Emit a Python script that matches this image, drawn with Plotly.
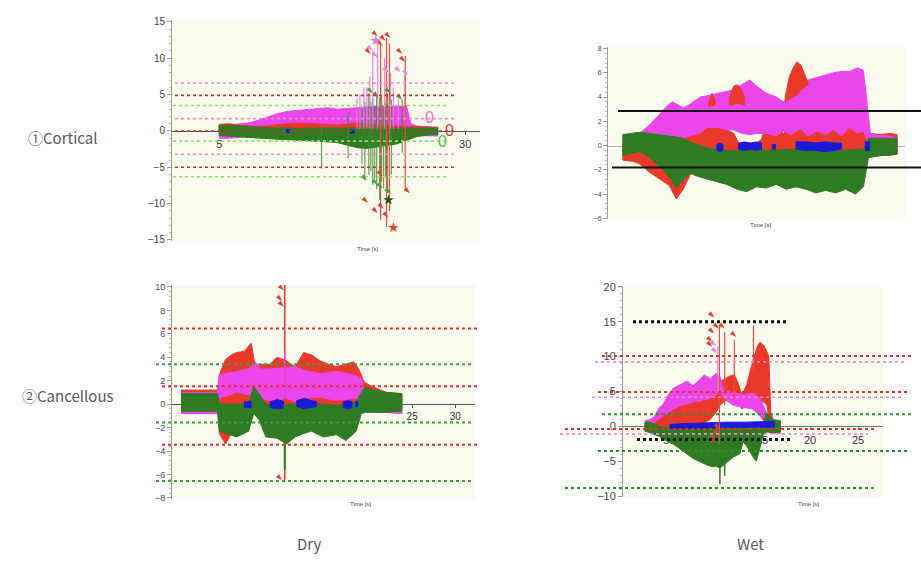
import plotly.graph_objects as go

W, H = 921, 561
def fx(px): return px / W
def fy(py): return 1 - py / H

MAG = "#eb46ea"; RED = "#e8392b"; GRN = "#2f7b24"; BLU = "#1a1ad6"
BG = "#fbfaee"

# ---------------- Panel 1 : Cortical / Dry ----------------
mag1_t  = [5, 6, 7, 8, 9, 10, 11, 12, 13, 14, 15, 16, 17, 18, 19, 20, 21, 22, 23, 24, 24.5, 25, 26, 27.2]
mag1_hi = [0.7, 0.8, 0.9, 1.1, 1.5, 2.0, 2.4, 2.7, 2.8, 3.0, 3.1, 3.2, 3.0, 3.1, 3.3, 3.4, 3.4, 3.5, 3.4, 3.5, 1.0, 0.7, 0.6, 0.5]
mag1_lo = [-1.0, -1.0, -0.9, -0.8, -0.6, -0.5, -0.4, -0.4, -0.4, -0.4, -0.4, -0.4, -0.4, -0.4, -0.4, -0.4, -0.4, -0.4, -0.4, -0.4, -0.6, -0.7, -0.7, -0.7]
red1_t  = [5, 6, 7, 8, 9, 10, 11, 12, 13, 14, 15, 16, 17, 18, 19, 20, 21, 22, 23, 24, 25, 26, 27.2]
red1_hi = [0.9, 1.0, 0.8, 0.7, 0.6, 0.7, 0.9, 1.0, 1.1, 1.0, 0.9, 0.9, 0.8, 0.9, 1.2, 0.9, 0.8, 0.7, 0.6, 0.6, 0.6, 0.5, 0.5]
red1_lo = [0.1, 0.1, 0.1, 0.1, 0.1, 0.1, 0.1, 0.1, 0.1, 0.1, 0.1, 0.1, 0.0, -0.3, -0.6, -0.3, 0.0, 0.1, 0.1, 0.1, 0.1, 0.1, 0.1]
grn1_t  = [5, 6, 7, 8, 9, 10, 11, 12, 13, 14, 15, 16, 17, 18, 19, 20, 21, 22, 23, 24, 25, 26, 27.2]
grn1_hi = [0.8, 0.8, 0.7, 0.6, 0.5, 0.4, 0.4, 0.4, 0.3, 0.4, 0.4, 0.3, 0.4, 0.4, 0.3, 0.4, 0.4, 0.4, 0.4, 0.4, 0.4, 0.4, 0.4]
grn1_lo = [-0.6, -0.7, -0.8, -0.9, -1.0, -1.1, -1.15, -1.2, -1.3, -1.35, -1.4, -1.5, -1.6, -1.9, -2.3, -2.4, -2.2, -2.0, -1.8, -1.3, -0.8, -0.6, -0.5]
blu1_segs = [([11.8, 12.2], [0.2, 0.2], [-0.2, -0.2]), ([18.3, 18.7], [0.1, 0.1], [-0.3, -0.3])]

p1_red_spk_t   = [21.4, 22.0, 22.3, 23.9]
p1_red_spk_top = [11.9, 12.8, 12.0, 10.3]
p1_red_spk_bot = [-12.2, -13.2, -11.0, -8.2]
p1_pnk_spk_t   = [19.0, 19.3, 19.7, 20.0, 20.3, 20.6, 21.1, 21.4, 21.8, 22.4, 22.7, 23.2, 23.9]
p1_pnk_spk_top = [4.5, 5.0, 6.0, 6.0, 7.5, 11.0, 12.4, 8.0, 10.0, 8.0, 6.0, 5.0, 7.7]
p1_pnk_spk_bot = [0.3, 0.3, 0.3, 0.3, 0.3, 0.3, 0.3, 0.3, 0.3, 0.3, 0.3, 0.3, 0.3]
p1_grn_spk_t   = [15.4, 18.1, 19.8, 20.2, 20.6, 21.0, 21.3, 21.7, 22.1, 22.5, 23.6, 19.5, 20.4, 20.8, 21.5, 21.9]
p1_grn_spk_top = [0.5, 2.5, 4.0, 5.2, 4.5, 5.0, 4.6, 3.0, 5.2, 4.3, 4.3, 3.0, 4.0, 3.5, 4.8, 3.8]
p1_grn_spk_bot = [-5.2, -3.8, -6.8, -6.0, -7.4, -8.0, -9.5, -7.9, -8.6, -6.0, -3.0, -4.5, -5.5, -6.5, -7.0, -6.2]
p1_red_arr_t = [21.1, 21.9, 22.4, 20.4, 21.6, 23.6, 23.9, 20.1, 21.1, 21.7, 22.2, 24.4, 21.6]
p1_red_arr_v = [13.0, 12.4, 12.8, 10.6, 11.7, 10.6, 9.5, -9.9, -11.3, -10.7, -11.9, -8.6, -6.2]
p1_grn_arr_t = [20.6, 21.2, 22.4, 23.6, 20.0, 21.1, 21.6, 22.4]
p1_grn_arr_v = [5.2, 4.6, 5.2, 4.3, -6.8, -7.4, -7.9, -8.6]
p1_pnk_arr_t = [20.6, 21.1, 22.2, 23.4, 24.2]
p1_pnk_arr_v = [11.0, 10.1, 8.1, 8.1, 7.7]
p1_star_t = [22.7, 20.9, 22.2]
p1_star_v = [-13.3, 12.4, -9.5]
p1_zero_t = [26.4, 28.4, 27.7]
p1_zero_v = [1.9, 0.1, -1.5]

thr1_vals = [6.6, 4.9, 3.5, 1.7, 0.0, -1.4, -3.2, -5.0, -6.3]
thr1_kind = ["pink", "dred", "lgrn", "pink", "dred", "lgrn", "pink", "dred", "lgrn"]
x1_ticks = [5, 30]

# ---------------- Panel 2 : Cortical / Wet ----------------
red2_t  = [1.5, 2.5, 3.2, 4.2, 5.3, 6.2, 6.9, 7.6, 8.3, 9.3, 10.0, 11.0, 12.0, 12.7, 13.2, 14.0, 15.0, 15.5, 16.0, 17.0, 17.7, 18.5, 19.4, 20.2, 21.1, 22.0, 22.8, 23.6, 24.4, 25.2, 25.8, 26.5, 27.5, 28.5, 29.2]
red2_hi = [0.2, 0.2, 0.3, 0.4, 0.5, 0.5, 0.6, 0.8, 1.0, 1.2, 1.6, 1.5, 1.3, 1.0, 0.2, 0.2, 0.2, 0.5, 1.8, 1.6, 1.0, 1.5, 2.2, 1.6, 2.3, 1.8, 2.4, 1.7, 2.5, 1.9, 2.3, 1.0, 0.9, 1.0, 0.9]
red2_lo = [-1.2, -1.3, -1.5, -2.2, -2.8, -3.3, -4.4, -3.6, -2.4, -1.7, -0.8, -0.5, -0.5, -0.5, -0.5, -0.5, -0.5, -0.5, -0.5, -0.5, -0.5, -0.5, -0.5, -0.5, -0.5, -0.5, -0.5, -0.5, -0.5, -0.5, -0.5, -0.5, -0.5, -0.5, -0.5]
mag2_t  = [3.2, 4.2, 5.0, 5.9, 6.5, 7.0, 7.6, 8.3, 9.3, 10.0, 11.0, 12.0, 12.7, 13.5, 14.3, 15.0, 16.0, 17.0, 17.7, 18.5, 19.4, 20.2, 21.1, 22.0, 22.8, 23.6, 24.4, 25.2, 25.8, 26.1, 26.5, 27.5, 28.5, 29.2]
mag2_hi = [1.0, 1.7, 2.4, 3.2, 3.6, 3.4, 3.1, 3.4, 4.0, 4.1, 4.3, 4.5, 4.6, 5.0, 5.4, 4.9, 4.3, 4.0, 3.6, 4.0, 5.2, 5.4, 5.6, 5.8, 6.0, 6.1, 6.1, 6.4, 6.2, 4.0, 1.0, 0.8, 0.8, 0.6]
mag2_lo = [0.6, 0.6, 0.6, 0.5, 0.5, 0.5, 0.6, 0.8, 1.0, 1.5, 1.5, 1.3, 1.3, 1.0, 0.9, 1.0, 1.0, 0.8, 1.2, 0.9, 1.4, 0.8, 1.2, 0.9, 1.3, 0.8, 1.5, 1.0, 1.2, 0.6, -0.8, -0.8, -0.8, -0.7]
red2b_segs = [([10.2, 10.5, 10.8], [3.6, 4.3, 3.8], [3.2, 3.3, 3.3]),
              ([12.3, 12.7, 13.1, 13.5, 13.8], [4.0, 4.9, 5.0, 4.6, 3.9], [3.3, 3.4, 3.5, 3.4, 3.3]),
              ([17.9, 18.3, 18.7, 19.1, 19.5, 19.9, 20.2], [4.0, 5.6, 6.4, 6.9, 6.6, 5.8, 5.2], [3.6, 3.8, 4.0, 4.2, 4.6, 4.8, 5.0])]
grn2_t  = [1.5, 2.5, 3.2, 4.2, 5.3, 6.2, 6.9, 7.6, 8.3, 9.3, 10.0, 11.0, 12.0, 13.0, 14.0, 15.0, 16.0, 17.0, 18.0, 19.0, 20.0, 21.0, 22.0, 23.0, 24.0, 25.0, 25.8, 26.3, 27.0, 27.8, 28.5, 29.2]
grn2_hi = [0.9, 1.0, 1.1, 1.0, 0.9, 0.8, 0.7, 0.6, 0.3, 0.0, -0.2, -0.3, -0.4, -0.4, -0.4, -0.3, -0.4, -0.4, -0.3, -0.3, -0.4, -0.4, -0.5, -0.5, -0.4, -0.3, -0.3, 0.6, 0.6, 0.6, 0.6, 0.6]
grn2_lo = [-0.8, -0.6, -0.5, -1.0, -1.8, -2.6, -3.5, -2.8, -2.3, -2.6, -2.8, -3.0, -3.2, -3.6, -3.8, -3.4, -3.5, -3.2, -3.6, -3.4, -3.6, -3.9, -3.7, -3.9, -3.6, -4.0, -3.4, -1.0, -0.9, -0.8, -0.8, -0.7]
blu2_segs = [([11.0, 11.3, 11.6], [0.1, 0.2, 0.1], [-0.4, -0.5, -0.4]),
             ([13.2, 13.8, 14.4, 15.0, 15.5], [0.2, 0.3, 0.2, 0.3, 0.2], [-0.3, -0.4, -0.3, -0.4, -0.3]),
             ([16.6, 16.9], [0.1, 0.1], [-0.3, -0.3]),
             ([19.0, 20.0, 21.0, 22.0, 23.0, 23.6], [0.3, 0.3, 0.2, 0.3, 0.2, 0.2], [-0.3, -0.4, -0.4, -0.5, -0.4, -0.3]),
             ([26.0, 26.4], [0.3, 0.3], [-0.4, -0.4])]
thr2_vals = [2.85, -1.8]

# ---------------- Panel 3 : Cancellous / Dry ----------------
red3_t  = [-1.8, 0, 2.4, 2.6, 3.3, 4.0, 4.6, 5.5, 6.3, 6.8, 7.4, 8.5, 9.3, 10.4, 11.4, 12.4, 13.3, 14.3, 15.3, 16.2, 17.3, 18.2, 18.8, 19.4, 20.1, 21.0, 22.0, 23.8]
red3_hi = [1.2, 1.2, 1.2, 2.5, 3.8, 4.2, 4.4, 4.5, 5.2, 3.1, 3.4, 3.4, 4.0, 3.7, 3.2, 4.4, 4.2, 3.7, 3.4, 3.2, 3.4, 3.6, 3.0, 1.9, 1.6, 1.3, 1.0, 0.9]
red3_lo = [-0.4, -0.4, -0.5, -2.5, -3.4, -2.5, -1.5, -0.8, -0.6, -0.8, -0.5, -0.5, -0.5, -0.5, -0.5, -0.5, -0.5, -0.5, -0.5, -0.5, -0.5, -0.8, -1.0, -0.5, -0.4, -0.4, -0.4, -0.4]
mag3_t  = [-1.8, 0, 2.4, 2.6, 4.6, 6.0, 6.8, 7.4, 8.5, 10.4, 11.4, 12.4, 14.3, 16.2, 18.2, 19.1, 19.4, 21.0, 23.8]
mag3_hi = [1.0, 1.0, 1.0, 2.5, 2.8, 3.0, 3.6, 3.0, 3.0, 3.1, 3.2, 2.9, 2.6, 2.8, 2.5, 2.2, 1.0, 0.9, 0.8]
mag3_lo = [-0.8, -0.8, -0.8, 0.5, 1.0, 0.8, 0.5, 0.5, 0.3, 0.5, 0.2, 0.5, 0.6, 0.3, 0.5, 0.5, -0.6, -0.7, -0.8]
grn3_t  = [-1.8, 0, 2.4, 2.6, 4.6, 6.0, 6.6, 7.2, 8.0, 9.3, 10.4, 11.4, 12.4, 13.3, 14.7, 16.2, 17.3, 18.5, 19.1, 19.6, 20.5, 22.0, 23.8]
grn3_hi = [0.9, 0.9, 0.9, 0.0, 0.0, 0.1, 1.5, 0.9, 0.0, -0.1, 0.0, 0.0, -0.1, 0.0, 0.0, -0.1, 0.0, 0.2, 1.0, 1.5, 1.2, 1.0, 0.9]
grn3_lo = [-0.6, -0.6, -0.6, -2.3, -2.8, -2.3, -0.8, -1.3, -2.8, -2.9, -3.4, -2.8, -2.5, -2.3, -2.8, -2.6, -3.1, -2.3, -0.8, -0.7, -0.7, -0.7, -0.6]
blu3_segs = [([5.5, 6.3], [0.2, 0.2], [-0.3, -0.3]),
             ([8.5, 9.3, 10.2], [0.2, 0.4, 0.2], [-0.3, -0.4, -0.3]),
             ([11.6, 12.5, 13.3, 13.9], [0.3, 0.5, 0.3, 0.2], [-0.2, -0.4, -0.3, -0.2]),
             ([17.0, 17.6, 18.0], [0.2, 0.3, 0.2], [-0.3, -0.4, -0.3]),
             ([18.4, 18.7], [0.2, 0.2], [-0.2, -0.2])]
p3_red_spk_t = [10.2]; p3_red_spk_top = [10.4]; p3_red_spk_bot = [-6.5]
p3_grn_spk_t = [10.2]; p3_grn_spk_top = [0.0]; p3_grn_spk_bot = [-5.6]
p3_pnk_spk_t = [10.2]; p3_pnk_spk_top = [4.6]; p3_pnk_spk_bot = [0.5]
p3_red_arr_t = [9.9, 10.1, 9.9, 10.1, 9.9]
p3_red_arr_v = [10.1, 9.7, 8.8, 8.3, -6.5]
thr3_vals = [6.45, 3.4, 1.53, -1.56, -3.46, -6.56]
thr3_kind = ["red", "grn", "red", "grn", "red", "grn"]
x3_ticks = [25, 30]

# ---------------- Panel 4 : Cancellous / Wet ----------------
red4_t  = [2.8, 3.7, 4.2, 4.7, 5.2, 5.8, 6.5, 7.2, 7.8, 8.5, 9.0, 9.6, 10.2, 10.6, 11.0, 11.6, 12.1, 12.5, 12.9, 13.4, 14.1, 14.5, 14.8, 15.2, 15.5, 15.7, 15.9, 16.2, 16.9]
red4_hi = [0.5, 0.8, 1.5, 2.0, 2.8, 3.2, 3.5, 3.8, 3.6, 3.5, 3.9, 4.6, 5.5, 6.5, 6.7, 7.2, 7.4, 6.2, 4.5, 6.0, 9.7, 11.5, 12.1, 11.5, 10.7, 10.0, 2.0, 0.8, 0.5]
red4_lo = [-0.5, -0.5, -0.5, -0.5, -0.3, -0.3, -0.3, 0.0, 0.0, 0.3, 0.5, 1.0, 2.0, 3.0, 3.5, 4.0, 4.0, 3.5, 2.5, 3.0, 3.0, 3.2, 3.5, 3.5, 3.0, 1.0, 0.0, -0.5, -0.5]
mag4_t  = [2.8, 3.3, 3.7, 4.2, 4.7, 5.2, 5.8, 6.5, 7.2, 7.8, 8.5, 9.0, 9.6, 10.2, 10.6, 11.0, 12.0, 13.0, 14.0, 14.8, 15.5, 16.0, 16.9]
mag4_hi = [0.8, 1.0, 1.3, 2.5, 3.2, 4.5, 5.5, 6.0, 6.5, 5.8, 6.7, 7.4, 6.8, 7.6, 7.2, 5.0, 5.0, 4.5, 4.8, 4.0, 1.8, 0.5, 0.3]
mag4_lo = [-0.8, -0.5, 0.5, 1.0, 1.5, 2.0, 2.5, 3.0, 3.2, 3.5, 3.7, 3.8, 4.0, 4.5, 5.0, 4.0, 3.0, 2.8, 2.5, 1.5, 0.0, -1.0, -1.0]
grn4_t  = [2.8, 3.3, 4.2, 5.2, 5.8, 6.8, 7.8, 8.5, 9.2, 9.8, 10.2, 10.6, 11.3, 12.0, 12.7, 13.0, 13.4, 13.8, 14.1, 14.4, 14.8, 15.1, 15.5, 16.0, 16.9]
grn4_hi = [0.6, 0.6, 0.0, -0.2, -0.3, -0.3, -0.3, -0.3, -0.3, -0.3, -0.3, -0.3, -0.3, -0.3, -0.3, 0.5, -0.3, -0.3, -0.3, -0.3, -0.3, 0.5, 1.9, 1.0, 0.8]
grn4_lo = [-0.7, -0.9, -1.4, -2.2, -2.6, -3.6, -4.6, -5.0, -5.5, -5.8, -5.7, -6.0, -5.2, -4.4, -3.9, -2.2, -2.8, -3.8, -4.5, -5.0, -3.0, -1.2, -0.8, -0.9, -0.8]
blu4_segs = [([5.4, 7.0, 9.0, 11.0, 13.0, 15.0, 16.3], [0.3, 0.4, 0.5, 0.6, 0.6, 0.7, 0.7], [-0.3, -0.3, -0.3, -0.2, -0.2, -0.1, -0.1])]
p4_red_spk_t   = [10.55, 11.1, 12.1, 14.1]
p4_red_spk_top = [14.5, 13.5, 12.4, 14.5]
p4_red_spk_bot = [-2.5, 3.0, 4.0, 8.0]
p4_pnk_spk_t   = [10.4]; p4_pnk_spk_top = [11.5]; p4_pnk_spk_bot = [5.0]
p4_grn_spk_t   = [10.6, 11.1]; p4_grn_spk_top = [-3.0, -3.0]; p4_grn_spk_bot = [-8.3, -7.1]
p4_red_arr_t = [10.0, 10.5, 10.0, 9.8, 9.8, 11.1, 12.3, 10.0, 10.2, 10.5, 10.6]
p4_red_arr_v = [15.6, 14.0, 13.3, 12.1, 11.4, 14.0, 12.8, -2.5, -2.0, -1.3, -0.4]
p4_pnk_arr_t = [10.2, 10.3]
p4_pnk_arr_v = [11.5, 10.5]
thr4_vals = [15.0, 10.1, 9.25, 4.93, 4.18, 1.74, -0.38, -1.08, -1.88, -3.52, -8.83]
thr4_kind = ["blk", "red", "pink", "red", "pink", "dgrn", "red", "pink", "blk", "dgrn", "dgrn"]
x4_ticks = [5, 10, 15, 20, 25]

# ---------------- styles / layout constants ----------------
DOT = {"pink": ("#f28ccc", 1.6), "dred": ("#c0392b", 1.6), "lgrn": ("#8fe06a", 1.6),
       "red": ("#e4302a", 2.0), "grn": ("#3c9e3c", 2.0), "dgrn": ("#2f8a2f", 2.0), "blk": ("#111111", 3.0)}
thr1_px = {"pink": (175, 456), "dred": (175, 456), "lgrn": (173, 447)}
thr3_px = {"red": (162, 477), "grn": (156, 471)}
thr4_px = [(633, 787), (602, 912), (595, 905), (598, 908), (592, 902), (602, 912),
           (565, 875), (560, 868), (637, 792), (598, 908), (565, 875)]
thr2_px = [(618, 921), (612, 921)]


def band_xy(segs):
    xs, ys = [], []
    for t, hi, lo in segs:
        if xs:
            xs.append(None); ys.append(None)
        xs += list(t) + list(t)[::-1] + [t[0]]
        ys += list(hi) + list(lo)[::-1] + [hi[0]]
    return xs, ys


def spikes_xy(t, top, bot):
    xs, ys = [], []
    for a, b, c in zip(t, top, bot):
        xs += [a, a, None]; ys += [c, b, None]
    return xs, ys


fig = go.Figure()


def add_band(segs, color, ax):
    x, y = band_xy(segs)
    fig.add_trace(go.Scatter(x=x, y=y, fill="toself", fillcolor=color, mode="lines",
                             line=dict(color=color, width=1), hoverinfo="skip",
                             showlegend=False, xaxis="x" + ax, yaxis="y" + ax))


def add_spikes(t, top, bot, color, ax, width=1.2):
    x, y = spikes_xy(t, top, bot)
    fig.add_trace(go.Scatter(x=x, y=y, mode="lines", line=dict(color=color, width=width),
                             hoverinfo="skip", showlegend=False, xaxis="x" + ax, yaxis="y" + ax))


def add_arrows(t, v, color, ax, symbol="arrow", size=7, angle=135):
    fig.add_trace(go.Scatter(x=t, y=v, mode="markers",
                             marker=dict(symbol=symbol, size=size, color=color, angle=angle),
                             hoverinfo="skip", showlegend=False, xaxis="x" + ax, yaxis="y" + ax))


# Panel 1 (axis suffix "")
add_band([(mag1_t, mag1_hi, mag1_lo)], MAG, "")
add_band([(red1_t, red1_hi, red1_lo)], RED, "")
add_band([(grn1_t, grn1_hi, grn1_lo)], GRN, "")
add_band(blu1_segs, BLU, "")
add_spikes(p1_grn_spk_t, p1_grn_spk_top, p1_grn_spk_bot, "rgba(60,140,50,0.8)", "")
add_spikes(p1_pnk_spk_t, p1_pnk_spk_top, p1_pnk_spk_bot, "rgba(230,120,230,0.9)", "")
add_spikes(p1_red_spk_t, p1_red_spk_top, p1_red_spk_bot, "#e8503e", "")
add_arrows(p1_grn_arr_t, p1_grn_arr_v, "#4c9a3c", "")
add_arrows(p1_pnk_arr_t, p1_pnk_arr_v, "#e88ae0", "")
add_arrows(p1_red_arr_t, p1_red_arr_v, "#e0402e", "")
add_arrows(p1_star_t, p1_star_v, ["#e0402e", "#e880d8", "#1f5a18"], "", symbol="star", size=8, angle=0)

# Panel 2
add_band([(red2_t, red2_hi, red2_lo)], RED, "2")
add_band([(mag2_t, mag2_hi, mag2_lo)], MAG, "2")
add_band(red2b_segs, RED, "2")
add_band([(grn2_t, grn2_hi, grn2_lo)], GRN, "2")
add_band(blu2_segs, BLU, "2")

# Panel 3
add_band([(red3_t, red3_hi, red3_lo)], RED, "3")
add_band([(mag3_t, mag3_hi, mag3_lo)], MAG, "3")
add_band([(grn3_t, grn3_hi, grn3_lo)], GRN, "3")
add_band(blu3_segs, BLU, "3")
add_spikes(p3_red_spk_t, p3_red_spk_top, p3_red_spk_bot, RED, "3", 1.5)
add_spikes(p3_pnk_spk_t, p3_pnk_spk_top, p3_pnk_spk_bot, MAG, "3", 1.5)
add_spikes(p3_grn_spk_t, p3_grn_spk_top, p3_grn_spk_bot, GRN, "3", 2)
add_arrows(p3_red_arr_t, p3_red_arr_v, "#e0402e", "3")

# Panel 4
add_band([(red4_t, red4_hi, red4_lo)], RED, "4")
add_band([(mag4_t, mag4_hi, mag4_lo)], MAG, "4")
add_band([(grn4_t, grn4_hi, grn4_lo)], GRN, "4")
add_band(blu4_segs, BLU, "4")
add_spikes(p4_red_spk_t, p4_red_spk_top, p4_red_spk_bot, "#e8503e", "4")
add_spikes(p4_pnk_spk_t, p4_pnk_spk_top, p4_pnk_spk_bot, "#e880e0", "4")
add_spikes(p4_grn_spk_t, p4_grn_spk_top, p4_grn_spk_bot, GRN, "4", 1.5)
add_arrows(p4_red_arr_t, p4_red_arr_v, "#e0402e", "4")
add_arrows(p4_pnk_arr_t, p4_pnk_arr_v, "#e880e0", "4")

# threshold lines
shapes = []
def hline(yref, v, kind, x0px, x1px):
    col, w = DOT[kind]
    shapes.append(dict(type="line", xref="paper", yref=yref, x0=fx(x0px), x1=fx(x1px), y0=v, y1=v,
                       line=dict(color=col, width=w, dash="dot"), layer="above"))

for v, k in zip(thr1_vals, thr1_kind):
    hline("y", v, k, *thr1_px[k])
for v, k in zip(thr3_vals, thr3_kind):
    hline("y3", v, k, *thr3_px[k])
for v, k, ext in zip(thr4_vals, thr4_kind, thr4_px):
    hline("y4", v, k, *ext)
for v, ext in zip(thr2_vals, thr2_px):
    shapes.append(dict(type="line", xref="paper", yref="y2", x0=fx(ext[0]), x1=fx(ext[1]), y0=v, y1=v,
                       line=dict(color="#111111", width=2), layer="above"))

FONT = "Liberation Sans, Arial, sans-serif"

def yax(dom, rng, dtick, size, anchor):
    return dict(domain=[fy(dom[1]), fy(dom[0])], range=rng, anchor=anchor, showline=True,
                linecolor="#9a9a9a", linewidth=1, ticks="outside", ticklen=4, tickcolor="#9a9a9a",
                dtick=dtick, showgrid=False, zeroline=False,
                tickfont=dict(family=FONT, size=size, color="#444"),
                minor=dict(ticks="outside", ticklen=2, tickcolor="#bbbbbb", dtick=dtick / 5))

def xax(dom, rng, zero_py, tickvals, size, linecolor, show=True):
    return dict(domain=[fx(dom[0]), fx(dom[1])], range=rng, anchor="free", position=fy(zero_py),
                showline=True, linecolor=linecolor, linewidth=1, ticks="outside" if show else "",
                ticklen=3, tickcolor=linecolor, tickvals=tickvals, showticklabels=show,
                showgrid=False, zeroline=False, layer="below traces",
                tickfont=dict(family=FONT, size=size, color="#333"))

ann = []
LBL = "Noto Sans CJK JP, Noto Sans, sans-serif"
for txt, px, py in [("①Cortical", 62, 135), ("②Cancellous", 68, 398), ("Dry", 309, 548), ("Wet", 750, 548)]:
    ann.append(dict(text=txt, x=fx(px), y=fy(py), xref="paper", yref="paper", showarrow=False,
                    xanchor="center", yanchor="middle", font=dict(family=LBL, size=15, color="#5a5a5a")))
for px, py in [(367, 248), (760, 224), (360, 508), (808, 508)]:
    ann.append(dict(text="Time [s]", x=fx(px), y=fy(py), xref="paper", yref="paper", showarrow=False,
                    xanchor="center", yanchor="middle", font=dict(family=FONT, size=6, color="#444")))
for t, v, c in zip(p1_zero_t, p1_zero_v, ["#f070c8", "#e03a2a", "#52c040"]):
    ann.append(dict(text="0", x=t, y=v, xref="x", yref="y", showarrow=False, borderpad=0,
                    font=dict(family=FONT, size=16, color=c)))

fig.update_layout(
    width=W, height=H, autosize=False, margin=dict(l=0, r=0, t=0, b=0, pad=0),
    paper_bgcolor="white", plot_bgcolor=BG, showlegend=False,
    xaxis=xax((172, 480), [0.2, 31.5], 128.3, x1_ticks, 11, "#555555"),
    yaxis=yax((15, 240), [-15.1, 15.3], 5, 10, "x"),
    xaxis2=xax((608, 905), [0, 30], 143.1, [], 7, "#b0b0b0", show=False),
    yaxis2=yax((43, 217.5), [-6.02, 8.1], 2, 7, "x2"),
    xaxis3=xax((172, 475), [-2.9, 32.3], 406.4, x3_ticks, 10, "#555555"),
    yaxis3=yax((285, 502.5), [-8.05, 10.17], 2, 9, "x3"),
    xaxis4=xax((623, 883), [0.5, 27.6], 429, x4_ticks, 11, "#777777"),
    yaxis4=yax((286, 501), [-10.14, 20.14], 5, 11, "x4"),
    shapes=shapes, annotations=ann,
)

fig.write_html("out.html", config={"displayModeBar": False},
               post_script="document.body.style.margin='0';document.body.style.overflow='hidden';")
